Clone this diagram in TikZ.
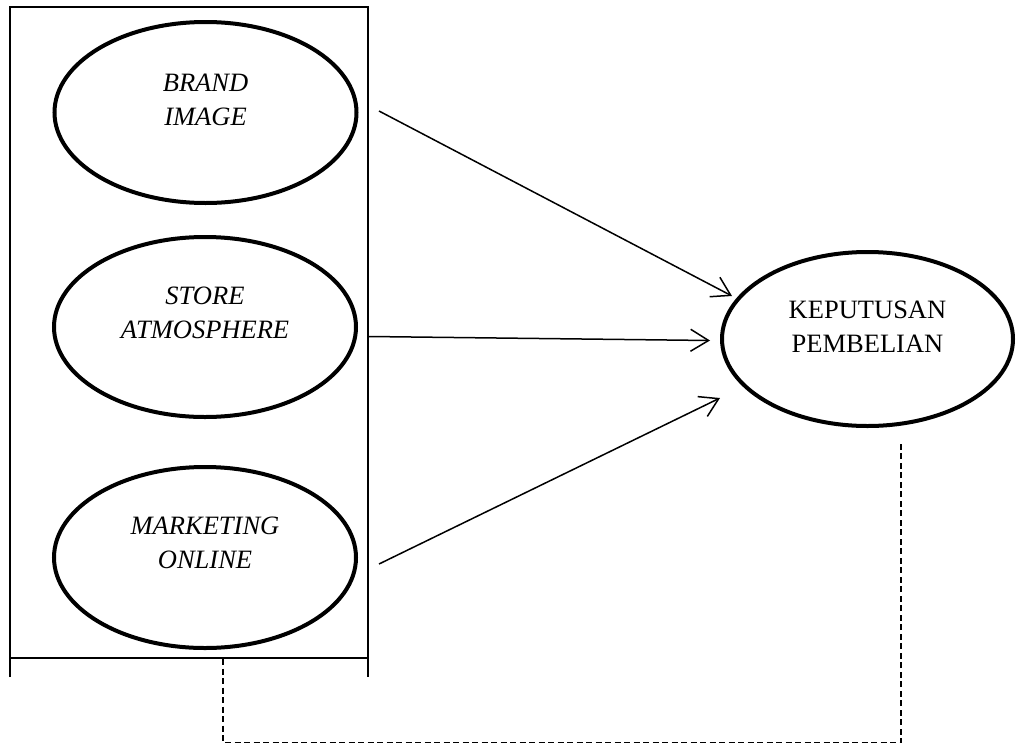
\documentclass[tikz,border=0pt]{standalone}
\usepackage{fontspec}
\setmainfont{Liberation Serif}
\usetikzlibrary{shapes.geometric,arrows.meta}
\begin{document}
\begin{tikzpicture}[x=1pt,y=-1pt,
  oval/.style={draw=black,ellipse,line width=4pt,inner sep=0pt},
  lbl/.style={align=center,inner sep=0pt,font=\fontsize{26.5}{34}\selectfont},
  frame/.style={line width=1.5pt},
  arr/.style={line width=1.5pt,-{Straight Barb[length=18pt,width=22pt,line width=1.5pt]}},
  dashline/.style={line width=1.5pt,dash pattern=on 6pt off 3.5pt}]
\useasboundingbox (0,0) rectangle (1016,744);
% frame
\draw[frame] (10,677) -- (10,7) -- (368,7) -- (368,677);
\draw[frame] (10,658) -- (368,658);
% ellipses
\node[oval,minimum width=302pt,minimum height=181pt] (e1) at (205.5,112.5) {};
\node[oval,minimum width=302pt,minimum height=180pt] (e2) at (205,327) {};
\node[oval,minimum width=302pt,minimum height=181pt] (e3) at (205,557.5) {};
\node[oval,minimum width=291pt,minimum height=174pt] (k) at (867.5,339) {};
\node[lbl,font=\fontsize{26.5}{34}\selectfont\itshape] (t1) at ([yshift=13pt]e1.center) {BRAND\\IMAGE};
\node[lbl,font=\fontsize{26.5}{34}\selectfont\itshape] (t2) at ([yshift=14pt]e2.center) {STORE\\ATMOSPHERE};
\node[lbl,font=\fontsize{26.5}{34}\selectfont\itshape] (t3) at ([yshift=14.5pt]e3.center) {MARKETING\\ONLINE};
\node[lbl] (tk) at ([yshift=12pt]k.center) {KEPUTUSAN\\PEMBELIAN};
% arrows
\coordinate (p1) at (379,111);
\coordinate (q1) at (732,296);
\coordinate (p2) at (369,336.5);
\coordinate (q2) at (710,340.5);
\coordinate (p3) at (379,564);
\coordinate (q3) at (720,398);
\draw[arr] (p1) -- (q1);
\draw[arr] (p2) -- (q2);
\draw[arr] (p3) -- (q3);
% dashed
\coordinate (d0) at (223,659);
\coordinate (d1) at (223,742.5);
\coordinate (d2) at (901,742.5);
\coordinate (d3) at (901,442);
\draw[dashline] (d0) -- (d1) -- (d2) -- (d3);
\end{tikzpicture}
\end{document}
